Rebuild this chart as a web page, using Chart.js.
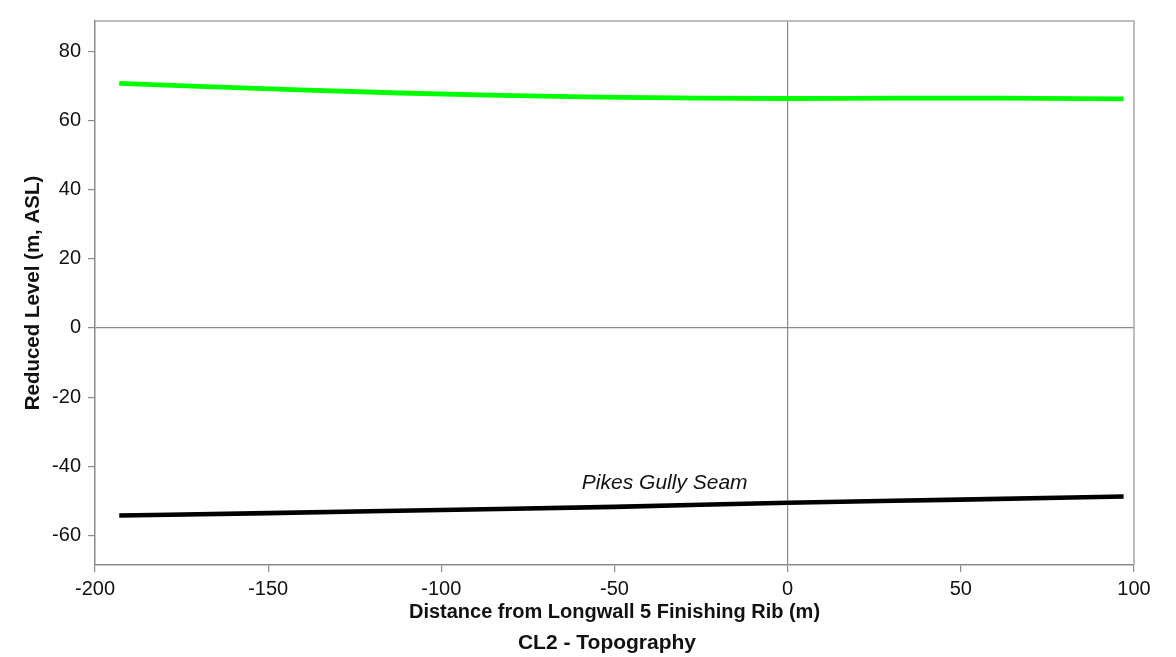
<!DOCTYPE html>
<html>
<head>
<meta charset="utf-8">
<script src="https://cdn.jsdelivr.net/npm/chart.js@4/dist/chart.umd.min.js"></script>
<style>
  html, body { margin: 0; padding: 0; background: #fff; }
  #wrap { width: 1176px; height: 657px; }
</style>
</head>
<body>
<div id="wrap"><canvas id="c" width="1176" height="657"></canvas></div>
<script>
// Chainage along the section line (m) and levels (m, ASL)
const surfaceX = [-193, -170, -141, -112, -83, -54, -25, 0, 32, 61, 97];
const surfaceY = [70.7, 69.8, 68.8, 67.9, 67.2, 66.7, 66.4, 66.3, 66.4, 66.4, 66.2];

const seamX = [-193, -150, -100, -50, 0, 50, 97];
const seamY = [-54.2, -53.5, -52.6, -51.7, -50.5, -49.6, -48.7];

const xTicks = [-200, -150, -100, -50, 0, 50, 100];
const yTicks = [-60, -40, -20, 0, 20, 40, 60, 80];

const seamLabel = 'Pikes Gully Seam';
const seamLabelAt = [-35.5, -44.8];
const chartTitle = 'CL2 - Topography';

const FONT = '"Liberation Sans", Arial, Helvetica, sans-serif';
const AXIS_GREY = '#8a8a8a';

const toPoints = (xs, ys) => xs.map((x, i) => ({ x, y: ys[i] }));

// Frame around the plotting area, the in-plot seam label and the caption
const framePlugin = {
  id: 'frame',
  afterDatasetsDraw(chart) {
    const { ctx, chartArea: a, scales } = chart;
    ctx.save();
    ctx.strokeStyle = '#a8a8a8';
    ctx.lineWidth = 1.5;
    ctx.beginPath();
    ctx.moveTo(a.left, a.top);
    ctx.lineTo(a.right, a.top);
    ctx.lineTo(a.right, a.bottom);
    ctx.stroke();

    ctx.fillStyle = '#111';
    ctx.textAlign = 'center';
    ctx.textBaseline = 'middle';
    ctx.font = 'italic 21px ' + FONT;
    ctx.fillText(seamLabel,
      scales.x.getPixelForValue(seamLabelAt[0]),
      scales.y.getPixelForValue(seamLabelAt[1]));

    ctx.font = 'bold 21px ' + FONT;
    ctx.fillText(chartTitle, 607, 643);
    ctx.restore();
  }
};

const zeroGrid = (ctx) => (ctx.tick && ctx.tick.value === 0) ? AXIS_GREY : 'rgba(0,0,0,0)';

new Chart(document.getElementById('c'), {
  type: 'line',
  data: {
    datasets: [
      {
        label: 'Surface',
        data: toPoints(surfaceX, surfaceY),
        borderColor: '#00ff00',
        borderWidth: 4.8,
        pointRadius: 0,
        cubicInterpolationMode: 'monotone',
        borderCapStyle: 'butt'
      },
      {
        label: seamLabel,
        data: toPoints(seamX, seamY),
        borderColor: '#000000',
        borderWidth: 4.6,
        pointRadius: 0,
        cubicInterpolationMode: 'monotone',
        borderCapStyle: 'butt'
      }
    ]
  },
  options: {
    responsive: false,
    animation: false,
    layout: { padding: { top: 21, right: 42, left: 0, bottom: 0 } },
    plugins: {
      legend: { display: false },
      tooltip: { enabled: false },
      title: { display: false }
    },
    scales: {
      x: {
        type: 'linear',
        min: -200,
        max: 100,
        afterBuildTicks: (s) => { s.ticks = xTicks.map(v => ({ value: v })); },
        afterFit: (s) => { s.height = 92; },
        border: { display: true, color: AXIS_GREY, width: 1.5 },
        grid: {
          color: zeroGrid,
          lineWidth: 1.2,
          drawTicks: true,
          tickLength: 7,
          tickColor: AXIS_GREY,
          tickWidth: 1.2
        },
        ticks: {
          color: '#111',
          padding: 5,
          maxRotation: 0,
          font: { family: FONT, size: 20 }
        },
        title: {
          display: true,
          text: 'Distance from Longwall 5 Finishing Rib (m)',
          color: '#111',
          font: { family: FONT, size: 20, weight: 'bold', lineHeight: 1.2 },
          padding: { top: 0, bottom: 33 }
        }
      },
      y: {
        type: 'linear',
        min: -68.5,
        max: 88.7,
        afterBuildTicks: (s) => { s.ticks = yTicks.map(v => ({ value: v })); },
        afterFit: (s) => { s.width = 95; },
        border: { display: true, color: AXIS_GREY, width: 1.5 },
        grid: {
          color: zeroGrid,
          lineWidth: 1.2,
          drawTicks: true,
          tickLength: 7,
          tickColor: AXIS_GREY,
          tickWidth: 1.2
        },
        ticks: {
          color: '#111',
          padding: 7,
          font: { family: FONT, size: 20 }
        },
        title: {
          display: true,
          text: 'Reduced Level (m, ASL)',
          color: '#111',
          font: { family: FONT, size: 20.5, weight: 'bold', lineHeight: 1.2 },
          padding: { top: 21, bottom: 0 }
        }
      }
    }
  },
  plugins: [framePlugin]
});
</script>
</body>
</html>
